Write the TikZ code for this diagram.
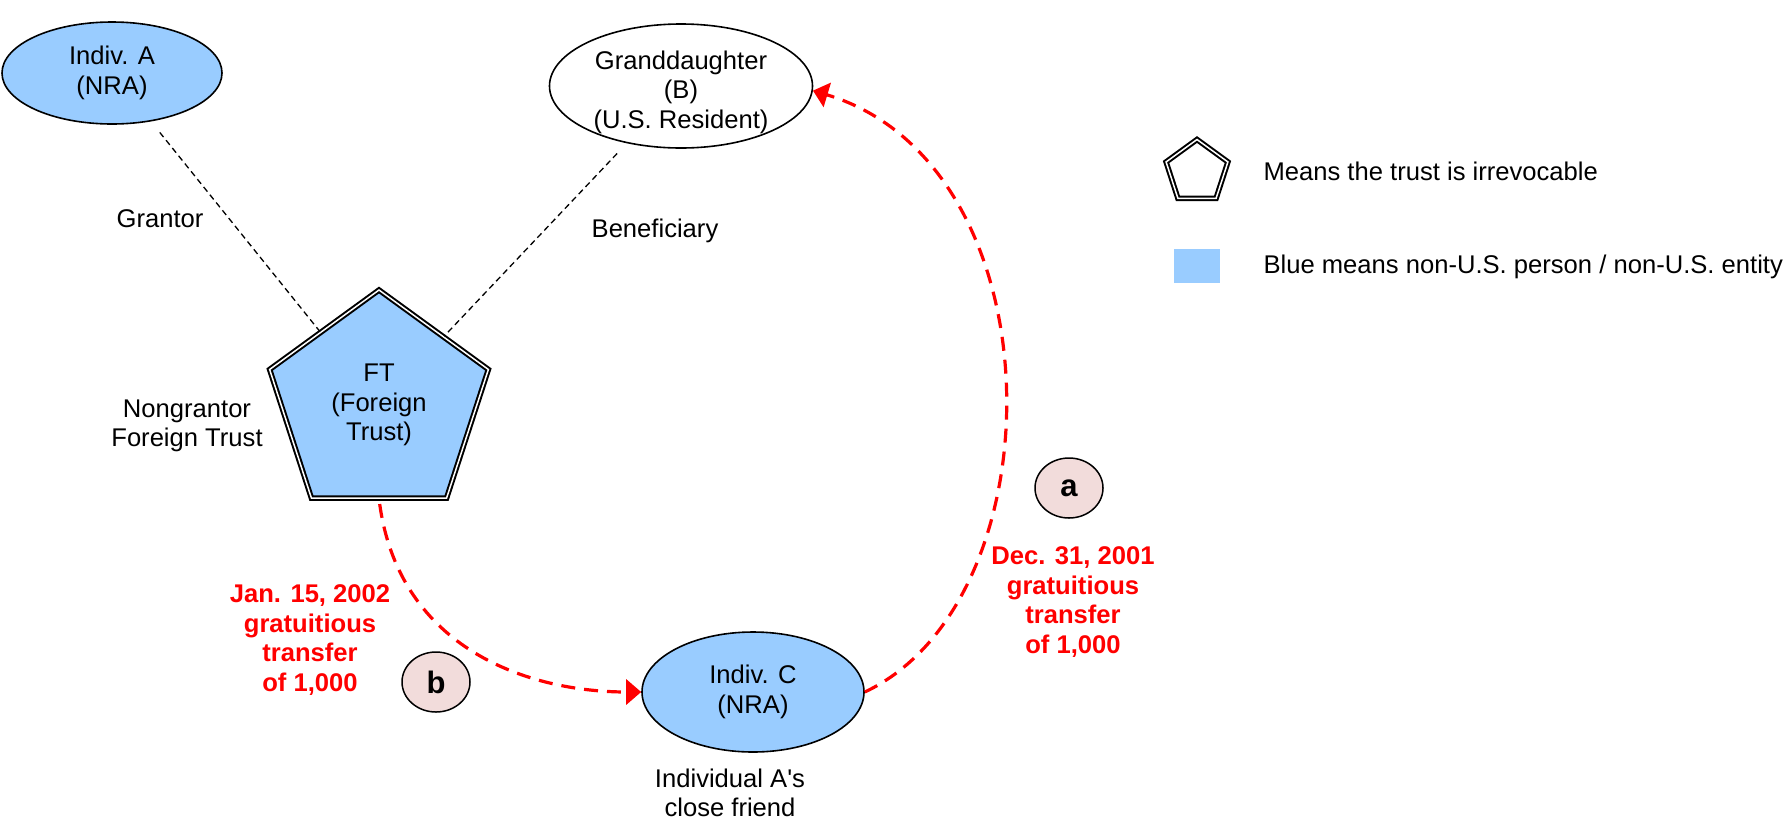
\documentclass[tikz,border=0pt]{standalone}
\usepackage{fontspec}
\setmainfont{Liberation Sans}
\usetikzlibrary{shapes.geometric,arrows.meta}
\definecolor{nonus}{HTML}{99CCFF}
\definecolor{tagpink}{HTML}{F2DCDB}
\definecolor{xred}{HTML}{FF0000}
\begin{document}
\begin{tikzpicture}[x=1pt,y=-1pt,
  every node/.style={font=\fontsize{25.6}{29.5}\selectfont, align=center},
  party/.style={ellipse, draw=black, line width=1.6pt, inner sep=0pt},
  trustshape/.style={regular polygon, regular polygon sides=5, draw=black, double=white,
      double distance=1.5pt, line width=2pt, inner sep=0pt},
  tag/.style={ellipse, draw=black, line width=1.5pt, fill=tagpink, minimum width=68pt,
      minimum height=60pt, inner sep=0pt, font=\fontsize{31}{34}\selectfont\bfseries},
  rolelink/.style={draw=black, line width=1.3pt, dash pattern=on 6pt off 4pt, shorten <=14pt},
  transfer/.style={draw=xred, line width=3.2pt, dash pattern=on 14pt off 9pt,
      -{Triangle[length=15pt,width=25pt]}},
  redtext/.style={text=xred, font=\fontsize{25.6}{29.5}\selectfont\bfseries}
]
\useasboundingbox (0,0) rectangle (1785,820);

% parties
\node[party, fill=nonus, minimum width=220pt, minimum height=102pt] (A) at (112,73) {Indiv. A\\(NRA)};
\node[party, fill=white, minimum width=263pt, minimum height=124pt,
      label={[align=center, yshift=-6pt]center:Granddaughter\\(B)\\(U.S. Resident)}] (G) at (681,86) {};
\node[party, fill=nonus, minimum width=222pt, minimum height=120pt] (C) at (753,692) {Indiv. C\\(NRA)};
\node[trustshape, fill=nonus, minimum size=230pt] (FT) at (379,405) {FT\\(Foreign\\Trust)};

% role links
\draw[rolelink] (A) -- (FT);
\draw[rolelink] (G) -- (FT);

% labels
\node (grantor) at (160,219) {Grantor};
\node (benef) at (655,231) {Beneficiary};
\node (ngft) at (187,426) {Nongrantor\\Foreign Trust};
\node (friend) at (730,793) {Individual A\textquotesingle s\\close friend};

% transfers
\draw[transfer] (C.east) .. controls (1060,600) and (1060,165) .. (G.-2);
\draw[transfer, shorten <=5pt] (FT.south) .. controls (400,650) and (530,692) .. (C.west);

\node[redtext] (dec) at (1073,602) {Dec. 31, 2001\\gratuitious\\transfer\\of 1,000};
\node[redtext] (jan) at (310,640) {Jan. 15, 2002\\gratuitious\\transfer\\of 1,000};
\node[tag] (ta) at (1069,488) {a};
\node[tag] (tb) at (436,682) {b};

% legend
\node[trustshape, fill=white, minimum size=65pt] (legpent) at (1197,172) {};
\node[anchor=west] (legpenttext) at (1260,171) {Means the trust is irrevocable};
\node[fill=nonus, minimum width=46pt, minimum height=34pt, inner sep=0pt] (legblue) at (1197,266) {};
\node[anchor=west] (legbluetext) at (1260,267) {Blue means non-U.S. person / non-U.S. entity};
\end{tikzpicture}
\end{document}
